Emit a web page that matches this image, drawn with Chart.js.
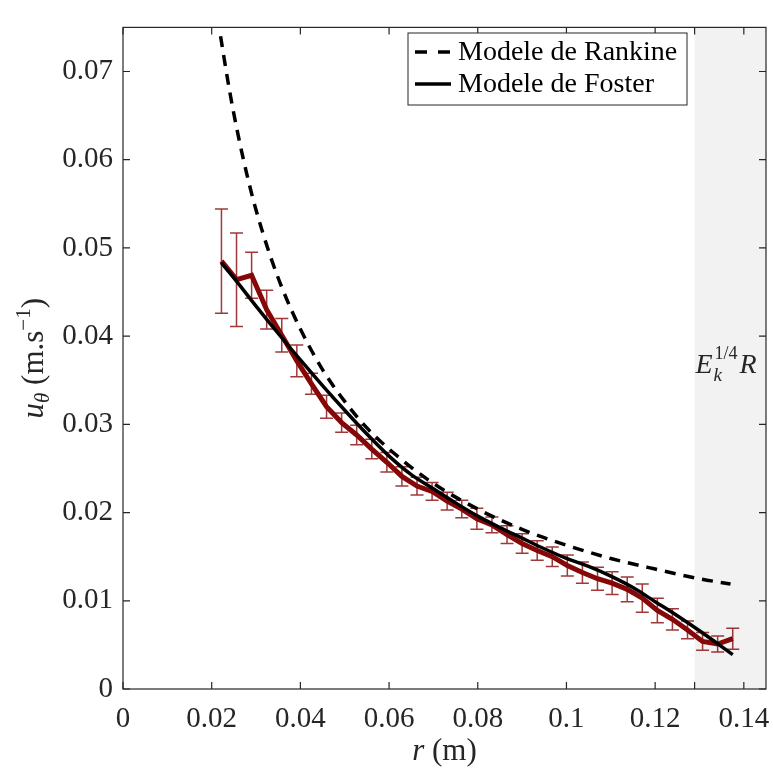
<!DOCTYPE html>
<html>
<head>
<meta charset="utf-8">
<script src="https://cdn.jsdelivr.net/npm/chart.js@4.4.0/dist/chart.umd.min.js"></script>
<style>
html, body { margin: 0; padding: 0; background: #fff; }
#zone { width: 773px; height: 778px; }
</style>
</head>
<body>
<div id="zone"><canvas id="profil"></canvas></div>
<script>
// mesures PIV (rayon en m, vitesse azimutale en m/s, demi-barre d'erreur)
const rayons = [0.0222, 0.0256, 0.0290, 0.0324, 0.0358, 0.0392, 0.0425, 0.0459, 0.0493, 0.0527,
    0.0561, 0.0595, 0.0629, 0.0663, 0.0697, 0.0731, 0.0764, 0.0798, 0.0832, 0.0866,
    0.0900, 0.0934, 0.0968, 0.1002, 0.1036, 0.1070, 0.1103, 0.1137, 0.1171, 0.1205,
    0.1239, 0.1273, 0.1307, 0.1341, 0.1375];
const vitesses = [0.0485, 0.0464, 0.0469, 0.0430, 0.0401, 0.0372, 0.0346, 0.0320, 0.0302, 0.0288,
    0.0272, 0.0257, 0.0241, 0.0230, 0.0224, 0.0213, 0.0204, 0.0193, 0.0186, 0.0175,
    0.0165, 0.0157, 0.0150, 0.0140, 0.0132, 0.0125, 0.0120, 0.0113, 0.0103, 0.0089,
    0.0079, 0.0067, 0.0054, 0.0051, 0.0057];
const erreurs = [0.0059, 0.0053, 0.0026, 0.0022, 0.0019, 0.0018, 0.0012, 0.0013, 0.0011, 0.0011,
    0.0011, 0.0011, 0.0011, 0.0010, 0.0010, 0.0010, 0.0010, 0.0012, 0.0009, 0.0010,
    0.0011, 0.0011, 0.0011, 0.0012, 0.0012, 0.0013, 0.0013, 0.0014, 0.0016, 0.0014,
    0.0012, 0.0010, 0.0010, 0.0009, 0.0012];

// modele de Foster
const rayonsFoster = [0.0222, 0.025, 0.03, 0.035, 0.04, 0.045, 0.05, 0.055, 0.06, 0.065, 0.07, 0.075,
    0.08, 0.085, 0.09, 0.095, 0.10, 0.105, 0.11, 0.115, 0.12, 0.125, 0.13, 0.1375];
const vitessesFoster = [0.0483, 0.0466, 0.0434, 0.0403, 0.0373, 0.0344, 0.0316, 0.0289, 0.0264, 0.0243, 0.0227, 0.0211,
    0.0196, 0.0183, 0.0171, 0.0159, 0.0148, 0.0139, 0.0128, 0.0115, 0.0099, 0.0083, 0.0066, 0.0039];

// modele de Rankine
const rayonsRankine = [0.0220, 0.024, 0.026, 0.028, 0.030, 0.033, 0.036, 0.040, 0.045, 0.050, 0.055,
    0.060, 0.070, 0.080, 0.090, 0.100, 0.110, 0.120, 0.130, 0.137];
const vitessesRankine = [0.0740, 0.0679, 0.0627, 0.0582, 0.0543, 0.0494, 0.0453, 0.0408, 0.0362, 0.0326, 0.0296,
    0.0272, 0.0233, 0.0204, 0.0181, 0.0163, 0.0148, 0.0136, 0.0125, 0.0119];

const ticksX = [0, 0.02, 0.04, 0.06, 0.08, 0.1, 0.12, 0.14];
const ticksY = [0, 0.01, 0.02, 0.03, 0.04, 0.05, 0.06, 0.07];
const rayonEk = 0.1289; // E_k^{1/4} R

const POLICE = '"Liberation Serif", "DejaVu Serif", serif';
const GRIS_AXE = '#262626';

function versPoints(xs, ys) {
    return xs.map((x, i) => ({ x: x, y: ys[i] }));
}

// zone grisee au-dela de E_k^{1/4} R
const zoneEk = {
    id: 'zoneEk',
    beforeDatasetsDraw(chart) {
        const { ctx, chartArea, scales } = chart;
        const x0 = scales.x.getPixelForValue(rayonEk);
        ctx.save();
        ctx.fillStyle = '#f2f2f2';
        ctx.fillRect(x0, chartArea.top, chartArea.right - x0, chartArea.bottom - chartArea.top);
        ctx.fillStyle = GRIS_AXE;
        ctx.textBaseline = 'alphabetic';
        ctx.font = 'italic 28px ' + POLICE;
        ctx.fillText('E', x0 + 1, 373);
        ctx.font = 'italic 19px ' + POLICE;
        ctx.fillText('k', x0 + 19, 381);
        ctx.font = '18px ' + POLICE;
        ctx.fillText('1/4', x0 + 20, 359);
        ctx.font = 'italic 28px ' + POLICE;
        ctx.fillText('R', x0 + 45, 373);
        ctx.restore();
    }
};

// barres d'erreur sous la courbe rouge
const barresErreur = {
    id: 'barresErreur',
    beforeDatasetsDraw(chart) {
        const { ctx, scales } = chart;
        ctx.save();
        ctx.strokeStyle = 'rgba(135, 8, 8, 0.8)';
        ctx.lineWidth = 1.5;
        rayons.forEach((r, i) => {
            const px = scales.x.getPixelForValue(r);
            const haut = scales.y.getPixelForValue(vitesses[i] + erreurs[i]);
            const bas = scales.y.getPixelForValue(vitesses[i] - erreurs[i]);
            ctx.beginPath();
            ctx.moveTo(px, haut);
            ctx.lineTo(px, bas);
            ctx.moveTo(px - 6.5, haut);
            ctx.lineTo(px + 6.5, haut);
            ctx.moveTo(px - 6.5, bas);
            ctx.lineTo(px + 6.5, bas);
            ctx.stroke();
        });
        ctx.restore();
    }
};

// cadre, graduations internes, titres et legende
const habillage = {
    id: 'habillage',
    afterDatasetsDraw(chart) {
        const { ctx, chartArea, scales } = chart;
        const { left, right, top, bottom } = chartArea;
        ctx.save();
        ctx.strokeStyle = GRIS_AXE;
        ctx.lineWidth = 1.2;
        ctx.strokeRect(left, top, right - left, bottom - top);
        ctx.beginPath();
        scales.x.ticks.forEach(t => {
            const px = scales.x.getPixelForValue(t.value);
            ctx.moveTo(px, bottom);
            ctx.lineTo(px, bottom - 7);
            ctx.moveTo(px, top);
            ctx.lineTo(px, top + 7);
        });
        scales.y.ticks.forEach(t => {
            const py = scales.y.getPixelForValue(t.value);
            ctx.moveTo(left, py);
            ctx.lineTo(left + 7, py);
            ctx.moveTo(right, py);
            ctx.lineTo(right - 7, py);
        });
        ctx.stroke();

        // legende
        const lx = 408, ly = 33, lw = 279, lh = 72;
        ctx.fillStyle = '#fff';
        ctx.fillRect(lx, ly, lw, lh);
        ctx.lineWidth = 1;
        ctx.strokeRect(lx, ly, lw, lh);
        const lignes = [chart.data.datasets[1], chart.data.datasets[2]];
        lignes.forEach((ds, i) => {
            const y = ly + 19 + i * 32;
            ctx.strokeStyle = ds.borderColor;
            ctx.lineWidth = 3.5;
            ctx.setLineDash(ds.borderDash ? [12, 11] : []);
            ctx.beginPath();
            ctx.moveTo(lx + 7, y);
            ctx.lineTo(lx + 43, y);
            ctx.stroke();
            ctx.setLineDash([]);
            ctx.fillStyle = '#000';
            ctx.font = '28px ' + POLICE;
            ctx.textBaseline = 'middle';
            ctx.fillText(ds.label, lx + 50, y + 1);
        });

        // titre de l'axe x : r (m)
        ctx.fillStyle = GRIS_AXE;
        ctx.textBaseline = 'alphabetic';
        const cx = (left + right) / 2;
        ctx.font = 'italic 31px ' + POLICE;
        const wr = ctx.measureText('r').width;
        ctx.font = '31px ' + POLICE;
        const wm = ctx.measureText(' (m)').width;
        const x0 = cx - (wr + wm) / 2;
        ctx.font = 'italic 31px ' + POLICE;
        ctx.fillText('r', x0, 760);
        ctx.font = '31px ' + POLICE;
        ctx.fillText(' (m)', x0 + wr, 760);

        // titre de l'axe y : u_theta (m.s^-1)
        ctx.translate(43, (top + bottom) / 2);
        ctx.rotate(-Math.PI / 2);
        const morceaux = [
            { t: 'u', f: 'italic 31px ', dy: 0 },
            { t: 'θ', f: 'italic 21px ', dy: 6 },
            { t: ' (m.s', f: '31px ', dy: 0 },
            { t: '−1', f: '21px ', dy: -13 },
            { t: ')', f: '31px ', dy: 0 }
        ];
        let total = 0;
        morceaux.forEach(m => { ctx.font = m.f + POLICE; m.w = ctx.measureText(m.t).width; total += m.w; });
        let xc = -total / 2;
        morceaux.forEach(m => {
            ctx.font = m.f + POLICE;
            ctx.fillText(m.t, xc, m.dy);
            xc += m.w;
        });
        ctx.restore();
    }
};

const ctx = document.getElementById('profil').getContext('2d');

new Chart(ctx, {
    type: 'line',
    data: {
        datasets: [
            {
                label: 'Mesures',
                data: versPoints(rayons, vitesses),
                borderColor: '#860707',
                borderWidth: 5,
                pointRadius: 0,
                tension: 0,
                order: 3
            },
            {
                label: 'Modele de Rankine',
                data: versPoints(rayonsRankine, vitessesRankine),
                borderColor: '#000',
                borderWidth: 3.5,
                borderDash: [11, 8],
                pointRadius: 0,
                cubicInterpolationMode: 'monotone',
                order: 2
            },
            {
                label: 'Modele de Foster',
                data: versPoints(rayonsFoster, vitessesFoster),
                borderColor: '#000',
                borderWidth: 3.5,
                pointRadius: 0,
                cubicInterpolationMode: 'monotone',
                order: 1
            }
        ]
    },
    options: {
        responsive: true,
        maintainAspectRatio: false,
        animation: false,
        layout: { padding: { top: 10, right: 7, left: 0, bottom: 0 } },
        plugins: {
            legend: { display: false },
            tooltip: { enabled: false }
        },
        scales: {
            x: {
                type: 'linear',
                min: 0,
                max: 0.145,
                grid: { display: false, drawTicks: false },
                border: { display: false },
                afterBuildTicks: scale => {
                    scale.ticks = ticksX.concat([rayonEk]).map(v => ({ value: v }));
                },
                afterFit: scale => { scale.height = 89; },
                ticks: {
                    color: GRIS_AXE,
                    font: { family: POLICE, size: 29 },
                    padding: 13,
                    maxRotation: 0,
                    autoSkip: false,
                    callback: v => (v === rayonEk ? '' : String(v))
                }
            },
            y: {
                type: 'linear',
                min: 0,
                max: 0.075,
                grid: { display: false, drawTicks: false },
                border: { display: false },
                afterBuildTicks: scale => {
                    scale.ticks = ticksY.map(v => ({ value: v }));
                },
                afterFit: scale => { scale.width = 123; },
                ticks: {
                    color: GRIS_AXE,
                    font: { family: POLICE, size: 29 },
                    padding: 10,
                    autoSkip: false,
                    callback: v => String(v)
                }
            }
        }
    },
    plugins: [zoneEk, barresErreur, habillage]
});
</script>
</body>
</html>
